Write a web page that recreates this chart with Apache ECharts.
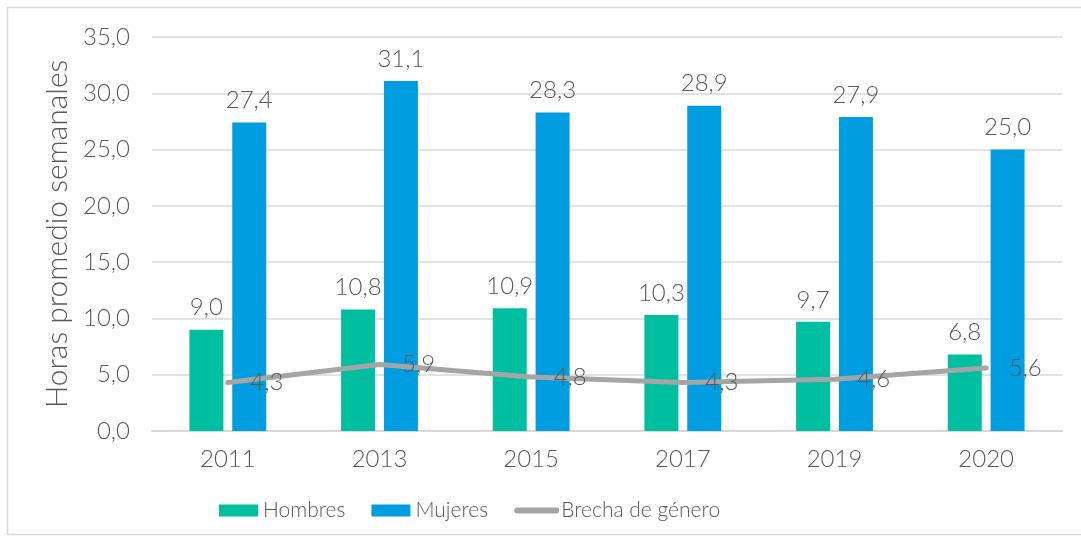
<!DOCTYPE html>
<html>
<head>
<meta charset="utf-8">
<script src="https://cdn.jsdelivr.net/npm/echarts@6/dist/echarts.min.js"></script>
<style>
  html, body { margin: 0; padding: 0; background: #fff; }
  #chart { width: 1081px; height: 541px; }
</style>
</head>
<body>
<div id="chart"></div>
<script>
const years = ['2011', '2013', '2015', '2017', '2019', '2020'];
const hombres = [9.0, 10.8, 10.9, 10.3, 9.7, 6.8];
const mujeres = [27.4, 31.1, 28.3, 28.9, 27.9, 25.0];
const brecha = [4.3, 5.9, 4.8, 4.3, 4.6, 5.6];

const fmt = (v) => v.toFixed(1).replace('.', ',');
const txt = '#595959';
const font = 'Lato';
const numStyle = { color: txt, fontSize: 24, fontWeight: 300, fontFamily: font };

const myChart = echarts.init(document.getElementById('chart'));
myChart.setOption({
  animation: false,
  textStyle: { fontFamily: font },
  graphic: [{
    type: 'rect',
    shape: { x: 7.5, y: 7.5, width: 1080, height: 527 },
    style: { fill: 'none', stroke: '#d9d9d9', lineWidth: 1.5 },
    silent: true
  }],
  grid: { left: 152, right: 19, top: 37, bottom: 110 },
  legend: {
    top: 500,
    left: 219,
    padding: 0,
    itemWidth: 39,
    itemHeight: 12,
    itemGap: 26,
    textStyle: { color: txt, fontSize: 21, fontWeight: 300, fontFamily: font },
    data: [
      { name: 'Hombres', icon: 'rect' },
      { name: 'Mujeres', icon: 'rect' },
      { name: 'Brecha de género', itemStyle: { opacity: 0 }, lineStyle: { width: 6, cap: 'round', color: '#A5A5A5' } }
    ]
  },
  xAxis: {
    type: 'category',
    data: years,
    axisLine: { lineStyle: { color: '#d9d9d9', width: 2 } },
    axisTick: { show: false },
    axisLabel: Object.assign({ margin: 16 }, numStyle)
  },
  yAxis: {
    type: 'value',
    min: 0,
    max: 35,
    interval: 5,
    name: 'Horas promedio semanales',
    nameLocation: 'middle',
    nameGap: 68,
    nameTextStyle: { color: txt, fontSize: 30, fontWeight: 300, fontFamily: font },
    axisLine: { show: false },
    axisTick: { show: false },
    axisLabel: Object.assign({ margin: 22, formatter: (v) => fmt(v) }, numStyle),
    splitLine: { lineStyle: { color: '#d9d9d9', width: 1.5 } }
  },
  series: [
    {
      name: 'Hombres',
      type: 'bar',
      data: hombres,
      barWidth: 34,
      barGap: '26%',
      itemStyle: { color: '#00BFA0' },
      label: Object.assign({ show: true, position: 'top', distance: 10, formatter: (p) => fmt(p.value) }, numStyle)
    },
    {
      name: 'Mujeres',
      type: 'bar',
      data: mujeres,
      barWidth: 34,
      itemStyle: { color: '#009EE0' },
      label: Object.assign({ show: true, position: 'top', distance: 10, formatter: (p) => fmt(p.value) }, numStyle)
    },
    {
      name: 'Brecha de género',
      type: 'line',
      data: brecha,
      symbol: 'circle',
      symbolSize: 1,
      lineStyle: { color: '#A5A5A5', width: 5, cap: 'round' },
      itemStyle: { color: '#A5A5A5' },
      labelLayout: { hideOverlap: false },
      label: Object.assign({ show: true, position: 'right', distance: 22, offset: [0, 2], formatter: (p) => fmt(p.value) }, numStyle)
    }
  ]
});
</script>
</body>
</html>
